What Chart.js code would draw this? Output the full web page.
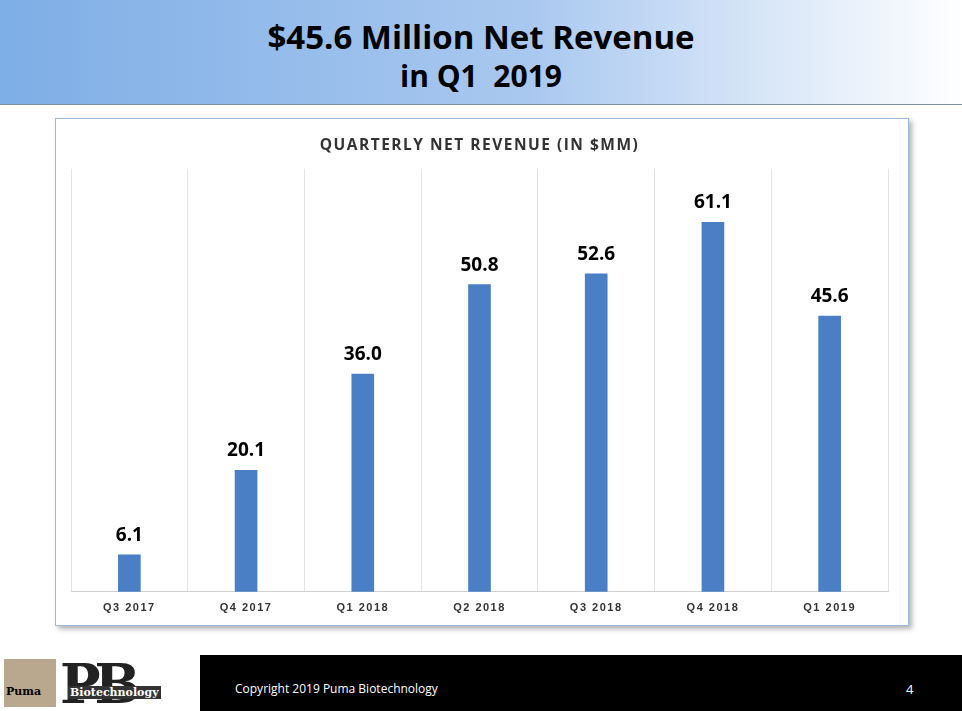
<!DOCTYPE html>
<html>
<head>
<meta charset="utf-8">
<script src="https://cdn.jsdelivr.net/npm/chart.js@4"></script>
<style>
  body { margin: 0; width: 962px; height: 711px; position: relative; background: #fff; font-family: "Open Sans", sans-serif; overflow: hidden; }
  #header { position: absolute; left: 0; top: 0; width: 962px; height: 104px;
    background: linear-gradient(to right, #7eaee6 0%, #a9c8ef 55%, #ffffff 100%);
    border-bottom: 1px solid #7f8fa6; text-align: center; }
  #header .t1 { font-weight: bold; font-size: 33px; padding-top: 17px; line-height: 40px; color: #000; }
  #header .t2 { font-weight: bold; font-size: 30px; line-height: 38px; color: #000; }
  #box { position: absolute; left: 55px; top: 118px; width: 852px; height: 506px;
    border: 1.5px solid #9bb7dc; box-shadow: 3px 3px 5px rgba(0,0,0,0.3); background: #fff; }
  #footer { position: absolute; left: 0; top: 655px; width: 962px; height: 56px; background: #000; color: #fff; }
  #logo { position: absolute; left: 0; top: 0; width: 200px; height: 56px; background: #fff; }
  #logo .pb { position: absolute; left: 60px; top: 2px; font: bold 54px "DejaVu Serif", serif; color: #222; letter-spacing: -6px; line-height: 54px; }
  #logo .cat { position: absolute; left: 4px; top: 4px; width: 52px; height: 48px; background: #b9a78e; }
  #logo .txt { position: absolute; left: 6px; top: 30px; font: bold 11px "DejaVu Serif", serif; color: #000; }
  #logo .txt2 { position: absolute; left: 68px; top: 31px; font: bold 11px "DejaVu Serif", serif; color: #fff; background: #333; padding: 0 2px; }
  #copy { position: absolute; left: 235px; top: 25px; font-size: 12px; }
  #page { position: absolute; left: 906px; top: 25px; font-size: 13px; }
</style>
</head>
<body>
<div id="header"><div class="t1">$45.6 Million Net Revenue</div><div class="t2">in Q1&nbsp; 2019</div></div>
<div id="box"><canvas id="myChart" width="852" height="506"></canvas></div>
<div id="footer">
  <div id="logo"><div class="cat"></div><div class="pb">PB</div><div class="txt">Puma</div><div class="txt2">Biotechnology</div></div>
  <div id="copy">Copyright 2019 Puma Biotechnology</div>
  <div id="page">4</div>
</div>
<script>
const quarters = ['Q3 2017', 'Q4 2017', 'Q1 2018', 'Q2 2018', 'Q3 2018', 'Q4 2018', 'Q1 2019'];
const revenue = [6.1, 20.1, 36.0, 50.8, 52.6, 61.1, 45.6];

// spaced-out text like the slide
const spacing = {
  id: 'spacing',
  beforeDraw(chart) { chart.ctx.letterSpacing = '1.5px'; }
};

// value labels above each bar
const barLabels = {
  id: 'barLabels',
  afterDatasetsDraw(chart) {
    const c = chart.ctx;
    c.save();
    c.letterSpacing = '0px';
    c.font = 'bold 19px "Open Sans", sans-serif';
    c.fillStyle = '#000';
    c.textAlign = 'center';
    c.textBaseline = 'bottom';
    chart.getDatasetMeta(0).data.forEach((bar, i) => {
      c.fillText(revenue[i].toFixed(1), bar.x, bar.y - 10);
    });
    c.restore();
  }
};

new Chart(document.getElementById('myChart'), {
  type: 'bar',
  data: {
    labels: quarters,
    datasets: [{ data: revenue, backgroundColor: '#4a7fc5', barThickness: 22 }]
  },
  plugins: [spacing, barLabels],
  options: {
    responsive: false,
    animation: false,
    layout: { padding: { left: 15, right: 20, top: 0, bottom: 0 } },
    plugins: {
      legend: { display: false },
      tooltip: { enabled: false },
      title: { display: true, text: 'QUARTERLY NET REVENUE (IN $MM)', color: '#333',
        font: { size: 15.5, weight: 'bold', family: '"Open Sans", sans-serif' },
        padding: { top: 17, bottom: 14 } }
    },
    scales: {
      x: {
        grid: { offset: true, color: '#e3e3e3', drawTicks: false },
        border: { color: '#d0d0d0' },
        ticks: { color: '#333', padding: 10, font: { size: 11, weight: 'bold' } }
      },
      y: { display: false, min: 0, max: 70 }
    }
  }
});
</script>
</body>
</html>
